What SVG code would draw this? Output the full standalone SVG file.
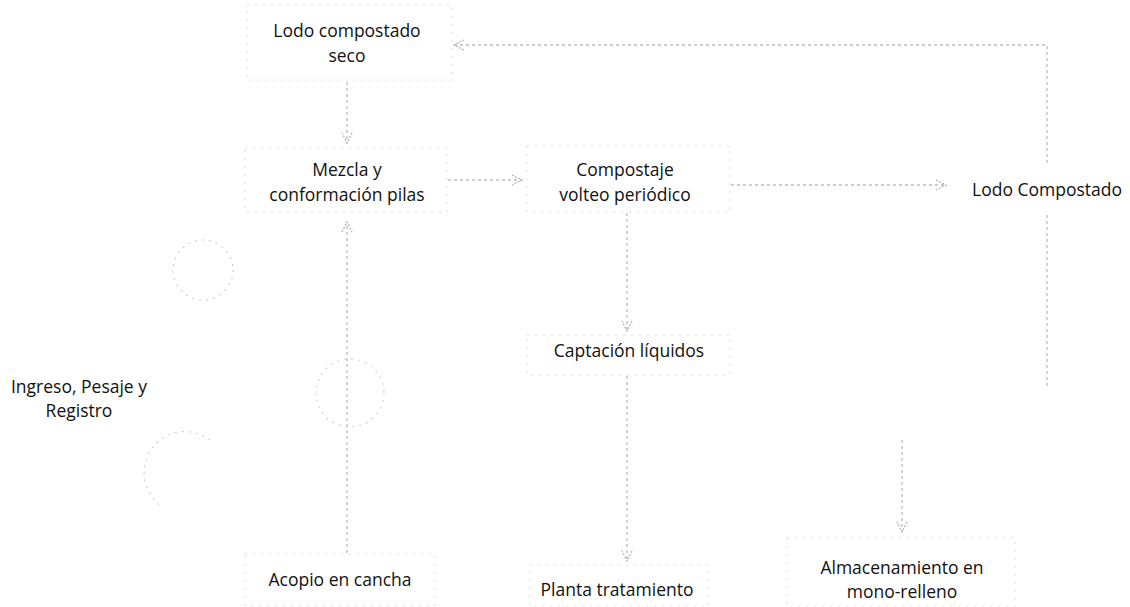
<svg xmlns="http://www.w3.org/2000/svg" width="1130" height="607" viewBox="0 0 1130 607">
<style>
text{font-family:"Open Sans","Liberation Sans",sans-serif;font-size:17.5px;fill:#111;text-anchor:middle}
.box{fill:none;stroke:#dadada;stroke-width:1;stroke-dasharray:2 6}
.ln{fill:none;stroke:#bdbdbd;stroke-width:1.3;stroke-dasharray:3 3}
.ring{fill:none;stroke:#cdcdcd;stroke-width:1.1;stroke-dasharray:2 5}
</style>
<defs>
<marker id="ah" viewBox="0 0 12 12" refX="11" refY="6" markerWidth="12" markerHeight="12" markerUnits="userSpaceOnUse" orient="auto">
<path d="M1,1 L11,6 L1,11" fill="none" stroke="#b0b0b0" stroke-width="1.2" stroke-dasharray="2 1.5"/>
</marker>
</defs>
<rect width="1130" height="607" fill="#fff"/>
<g id="n-seco">
<rect class="box" x="247" y="5" width="205" height="75"/>
<text x="347" y="37">Lodo compostado</text>
<text x="347" y="62">seco</text>
</g>
<g id="n-mezcla">
<rect class="box" x="245" y="148" width="202" height="64"/>
<text x="347" y="176">Mezcla y</text>
<text x="347" y="201">conformación pilas</text>
</g>
<g id="n-compostaje">
<rect class="box" x="527" y="146" width="203" height="66"/>
<text x="625" y="176">Compostaje</text>
<text x="625" y="201">volteo periódico</text>
</g>
<g id="n-lodo">
<text x="1047" y="196">Lodo Compostado</text>
</g>
<g id="n-captacion">
<rect class="box" x="527" y="335" width="203" height="40"/>
<text x="629" y="357">Captación líquidos</text>
</g>
<g id="n-ingreso">
<text x="79" y="393">Ingreso, Pesaje y</text>
<text x="79" y="417">Registro</text>
</g>
<g id="n-acopio">
<rect class="box" x="245" y="554" width="190" height="52"/>
<text x="340" y="586">Acopio en cancha</text>
</g>
<g id="n-planta">
<rect class="box" x="530" y="565" width="178" height="42"/>
<text x="617" y="596">Planta tratamiento</text>
</g>
<g id="n-almacen">
<rect class="box" x="787" y="538" width="228" height="69"/>
<text x="902" y="574">Almacenamiento en</text>
<text x="902" y="598">mono-relleno</text>
</g>
<g id="connectors">
<path class="ln" d="M347,82 V143" marker-end="url(#ah)"/>
<path class="ln" d="M347,553 V222" marker-end="url(#ah)"/>
<circle class="ring" cx="350" cy="393" r="34"/>
<circle class="ring" cx="203" cy="270" r="30"/>
<path class="ring" d="M210,440 A38,38 0 0 0 160,505"/>
<path class="ln" d="M448,180 H522" marker-end="url(#ah)"/>
<path class="ln" d="M731,185 H946" marker-end="url(#ah)"/>
<path class="ln" d="M1047,163 V45 H454" marker-end="url(#ah)"/>
<path class="ln" d="M1047,215 V387"/>
<path class="ln" d="M627,213 V331" marker-end="url(#ah)"/>
<path class="ln" d="M627,376 V561" marker-end="url(#ah)"/>
<path class="ln" d="M902,440 V532" marker-end="url(#ah)"/>
</g>
</svg>
